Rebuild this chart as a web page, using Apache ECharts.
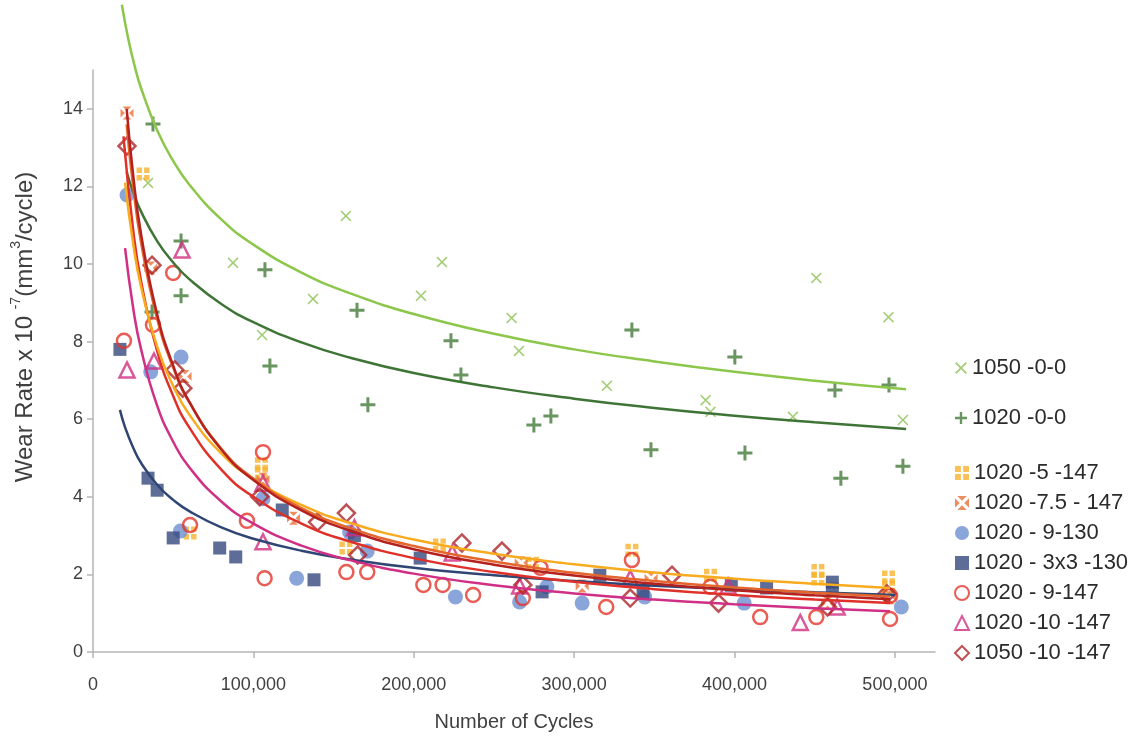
<!DOCTYPE html>
<html>
<head>
<meta charset="utf-8">
<title>Wear Rate vs Number of Cycles</title>
<script src="https://cdn.jsdelivr.net/npm/echarts@6/dist/echarts.min.js"></script>
<style>
  html, body { margin: 0; padding: 0; background: #ffffff; }
  #chart { width: 1142px; height: 742px; }
</style>
</head>
<body>
<div id="chart"></div>
<script>
// Axis ticks
const xTicks = [0, 100000, 200000, 300000, 400000, 500000];
const yTicks = [0, 2, 4, 6, 8, 10, 12, 14];

// Measured wear rates: [cycles, wear rate x 1e-7 mm^3/cycle]
const w1050_0_0 = [[34300,12.09],[87300,10.03],[105400,8.17],[137200,9.10],[157700,11.24],[204500,9.18],[217600,10.05],[261000,8.61],[265600,7.76],[320400,6.86],[382000,6.49],[385000,6.19],[436400,6.06],[451000,9.64],[496000,8.63],[505000,5.98]];
const w1020_0_0 = [[37400,13.61],[36800,8.76],[54900,10.59],[54900,9.18],[107200,9.85],[110300,7.37],[164600,8.81],[171400,6.37],[223200,8.02],[229400,7.14],[274900,5.85],[285500,6.08],[336000,8.30],[347900,5.21],[400200,7.60],[406500,5.13],[462600,6.75],[466300,4.48],[496300,6.88],[505000,4.79]];
const w1020_5_147 = [[31200,12.32],[60500,3.07],[105000,4.85],[105000,4.60],[157700,2.68],[216000,2.76],[274000,2.29],[336000,2.62],[385000,1.98],[452000,2.10],[452000,1.88],[496000,1.93],[496000,1.68]];
const w1020_75_147 = [[21200,13.89],[36000,9.90],[57400,7.10],[106000,4.45],[125000,3.45],[267000,2.30],[305000,1.70],[348000,1.90],[458000,1.25],[497000,1.40]];
const w1020_9_130 = [[21200,11.78],[36000,7.22],[54900,7.60],[54500,3.12],[106000,3.95],[127000,1.90],[160000,3.09],[171000,2.60],[226000,1.42],[266000,1.29],[283000,1.68],[305000,1.26],[344000,1.42],[406000,1.26],[504000,1.16]];
const w1020_3x3_130 = [[16800,7.80],[34300,4.48],[40000,4.17],[50000,2.94],[79000,2.68],[89000,2.45],[118000,3.66],[137800,1.86],[163000,3.00],[204000,2.42],[280000,1.55],[316000,1.98],[343000,1.55],[398000,1.72],[420000,1.65],[461000,1.80],[461000,1.62]];
const w1020_9_147 = [[19300,8.02],[37400,8.43],[50000,9.77],[60500,3.27],[96000,3.38],[106000,5.15],[107000,1.90],[158000,2.06],[171000,2.06],[206000,1.73],[218000,1.73],[237000,1.47],[268000,1.39],[279000,2.17],[320000,1.16],[336000,2.37],[385000,1.68],[416000,0.90],[451000,0.90],[497000,1.45],[497000,0.85]];
const w1020_10_147 = [[21200,7.27],[38000,7.50],[55500,10.36],[106000,4.35],[106000,2.84],[163000,3.20],[224000,2.55],[266000,1.70],[335000,1.90],[396000,1.70],[441000,0.76],[464000,1.16]];
const w1050_10_147 = [[21200,13.04],[36800,9.97],[51000,7.27],[56000,6.80],[104000,4.00],[140000,3.35],[158000,3.58],[165000,2.50],[230000,2.81],[255000,2.60],[268000,1.73],[335000,1.39],[361000,1.98],[390000,1.26],[458000,1.16],[495000,1.50]];

// Trend curves
const t1050_0_0 = [[18000,16.68],[22000,15.80],[26000,15.10],[30000,14.53],[40000,13.45],[50000,12.66],[60000,12.05],[80000,11.15],[100000,10.50],[130000,9.78],[160000,9.25],[200000,8.71],[250000,8.20],[300000,7.80],[350000,7.49],[400000,7.22],[450000,6.99],[507000,6.77]];
const t1020_0_0 = [[21000,12.37],[25000,11.86],[30000,11.35],[40000,10.59],[50000,10.04],[60000,9.61],[80000,8.97],[100000,8.50],[130000,7.98],[160000,7.59],[200000,7.19],[250000,6.82],[300000,6.53],[350000,6.29],[400000,6.09],[450000,5.92],[507000,5.75]];
const t1020_5_147 = [[20000,12.10],[25000,10.54],[30000,9.41],[40000,7.87],[50000,6.86],[60000,6.12],[80000,5.12],[100000,4.46],[130000,3.79],[160000,3.33],[200000,2.90],[250000,2.53],[300000,2.26],[350000,2.05],[400000,1.89],[450000,1.76],[497000,1.65]];
const t1020_75_147 = [[21000,13.60],[25000,12.01],[30000,10.55],[40000,8.59],[50000,7.33],[60000,6.44],[80000,5.24],[100000,4.47],[130000,3.71],[160000,3.20],[200000,2.73],[250000,2.33],[300000,2.04],[350000,1.83],[400000,1.66],[450000,1.53],[497000,1.43]];
const t1020_3x3_130 = [[16800,6.24],[20000,5.79],[25000,5.27],[30000,4.87],[40000,4.31],[50000,3.92],[60000,3.63],[80000,3.21],[100000,2.92],[130000,2.61],[160000,2.39],[200000,2.17],[250000,1.98],[300000,1.83],[350000,1.71],[400000,1.62],[450000,1.54],[500000,1.47]];
const t1020_9_147 = [[19000,13.29],[25000,10.89],[30000,9.55],[40000,7.76],[50000,6.60],[60000,5.79],[80000,4.70],[100000,4.00],[130000,3.31],[160000,2.85],[200000,2.42],[250000,2.06],[300000,1.81],[350000,1.62],[400000,1.47],[450000,1.35],[497000,1.26]];
const t1020_10_147 = [[20000,10.41],[25000,8.88],[30000,7.80],[40000,6.35],[50000,5.42],[60000,4.76],[80000,3.88],[100000,3.31],[130000,2.74],[160000,2.37],[200000,2.02],[250000,1.72],[300000,1.51],[350000,1.35],[400000,1.23],[450000,1.13],[497000,1.05]];
const t1050_10_147 = [[21000,14.00],[25000,12.31],[30000,10.76],[40000,8.70],[50000,7.38],[60000,6.45],[80000,5.22],[100000,4.43],[130000,3.65],[160000,3.13],[200000,2.65],[250000,2.25],[300000,1.97],[350000,1.76],[400000,1.59],[450000,1.46],[497000,1.36]];

// Marker shapes
const SYM_X = 'path://M1,0L5,4L9,0L10,1L6,5L10,9L9,10L5,6L1,10L0,9L4,5L0,1Z';
const SYM_PLUS = 'path://M4,0H6V4H10V6H6V10H4V6H0V4H4Z';
const SYM_QUAD = 'path://M0,0H4.2V4.2H0Z M5.8,0H10V4.2H5.8Z M0,5.8H4.2V10H0Z M5.8,5.8H10V10H5.8Z';
const SYM_BOXX = 'path://M1.6,0H8.4L5,3.4Z M10,1.6V8.4L6.6,5Z M8.4,10H1.6L5,6.6Z M0,8.4V1.6L3.4,5Z';

const CLEAR = 'rgba(255,255,255,0)';

function marks(name, data, symbol, size, style) {
  return { name, type: 'scatter', data, symbol, symbolSize: size, itemStyle: style, z: 3 };
}
function trend(data, color, width) {
  return {
    type: 'line', data, smooth: 0.5, showSymbol: false, clip: false,
    lineStyle: { color, width: width || 2.5 }, silent: true, z: 4
  };
}

const chart = echarts.init(document.getElementById('chart'), null, { renderer: 'canvas' });

const textColor = '#404040';
const axisColor = '#b5b5b5';
const fontFamily = '"Liberation Sans", Arial, sans-serif';

chart.setOption({
  animation: false,
  backgroundColor: '#ffffff',
  textStyle: { fontFamily },
  grid: { left: 93, right: 207, top: 70, bottom: 90 },
  graphic: [{
    type: 'text', x: 23, y: 327, rotation: Math.PI / 2,
    style: {
      text: '{n|Wear Rate x 10 }{s|-7}{n|(mm}{s|3}{n|/cycle)}',
      align: 'center', verticalAlign: 'middle', fill: textColor,
      rich: {
        n: { fontSize: 24, lineHeight: 28, fill: textColor, fontFamily, verticalAlign: 'bottom' },
        s: { fontSize: 14, lineHeight: 28, fill: textColor, fontFamily, verticalAlign: 'top' }
      }
    }
  }],
  legend: [
    {
      orient: 'vertical', left: 950, top: 352, itemGap: 28,
      itemWidth: 12, itemHeight: 12,
      textStyle: { fontSize: 22, color: '#2b2b2b', lineHeight: 22, fontFamily },
      data: ['1050 -0-0', '1020 -0-0']
    },
    {
      orient: 'vertical', left: 949, top: 457, itemGap: 8,
      itemWidth: 14, itemHeight: 14,
      textStyle: { fontSize: 22, color: '#2b2b2b', lineHeight: 22, fontFamily },
      data: ['1020 -5 -147', '1020 -7.5 - 147', '1020 - 9-130', '1020 - 3x3 -130', '1020 - 9-147', '1020 -10 -147', '1050 -10 -147']
    }
  ],
  xAxis: {
    type: 'value', min: 0, max: 525000,
    name: 'Number of Cycles', nameLocation: 'middle', nameGap: 60,
    nameTextStyle: { fontSize: 20, color: textColor, fontFamily },
    splitLine: { show: false },
    axisLine: { lineStyle: { color: axisColor, width: 1.5 } },
    axisTick: { show: true, length: 6, customValues: xTicks, lineStyle: { color: axisColor, width: 1.5 } },
    axisLabel: {
      customValues: xTicks, margin: 24, fontSize: 18, color: textColor,
      formatter: v => v.toLocaleString('en-US')
    }
  },
  yAxis: {
    type: 'value', min: 0, max: 15,
    splitLine: { show: false },
    axisLine: { show: true, lineStyle: { color: axisColor, width: 1.5 } },
    axisTick: { show: true, length: 6, customValues: yTicks, lineStyle: { color: axisColor, width: 1.5 } },
    axisLabel: { customValues: yTicks, margin: 10, fontSize: 18, color: textColor }
  },
  series: [
    marks('1050 -0-0', w1050_0_0, SYM_X, 11, { color: '#8cc152' }),
    marks('1020 -0-0', w1020_0_0, SYM_PLUS, 15, { color: '#447a3a' }),
    marks('1020 -5 -147', w1020_5_147, SYM_QUAD, 13, { color: '#f7b32e' }),
    marks('1020 -7.5 - 147', w1020_75_147, SYM_BOXX, 13, { color: '#e8723a' }),
    marks('1020 - 9-130', w1020_9_130, 'circle', 15, { color: '#6d8fcf' }),
    marks('1020 - 3x3 -130', w1020_3x3_130, 'rect', 13, { color: '#34497d' }),
    marks('1020 - 9-147', w1020_9_147, 'circle', 14, { color: CLEAR, borderColor: '#e3342a', borderWidth: 2.5 }),
    marks('1020 -10 -147', w1020_10_147, 'triangle', 15, { color: CLEAR, borderColor: '#cf2e80', borderWidth: 2.5 }),
    marks('1050 -10 -147', w1050_10_147, 'diamond', 17, { color: CLEAR, borderColor: '#ad2528', borderWidth: 2.5 }),

    trend(t1050_0_0, '#8cc64a'),
    trend(t1020_0_0, '#3f7437'),
    trend(t1020_3x3_130, '#2f4573'),
    trend(t1020_10_147, '#d02f86'),
    trend(t1020_9_147, '#e0302a'),
    trend(t1020_5_147, '#f8ab1f'),
    trend(t1020_75_147, '#e4662c'),
    trend(t1050_10_147, '#b3221f')
  ]
});
</script>
</body>
</html>
